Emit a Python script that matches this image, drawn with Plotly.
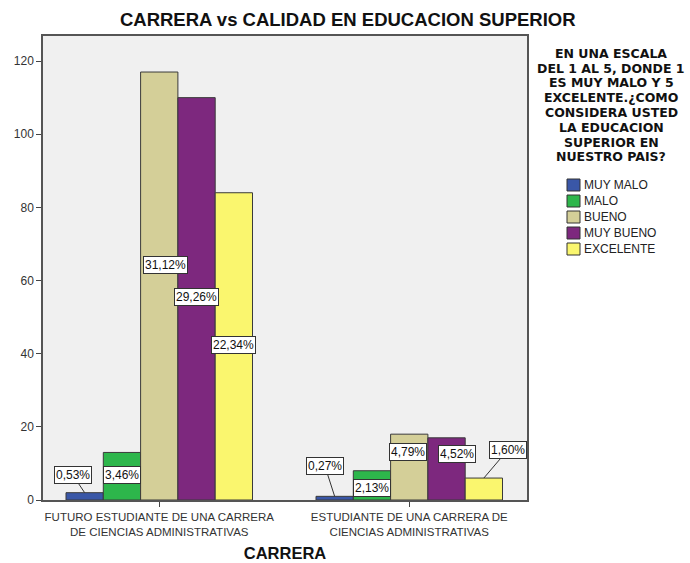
import plotly.graph_objects as go

# Frequencies per career group and rating
careers = ["FUTURO ESTUDIANTE DE UNA CARRERA<br>DE CIENCIAS ADMINISTRATIVAS",
           "ESTUDIANTE DE UNA CARRERA DE<br>CIENCIAS ADMINISTRATIVAS"]
ratings = ["MUY MALO", "MALO", "BUENO", "MUY BUENO", "EXCELENTE"]
counts_futuro = [2, 13, 117, 110, 84]
counts_estudiante = [1, 8, 18, 17, 6]
colors = ["#3A57A7", "#2DB64B", "#D4CF98", "#7D287E", "#FAF66E"]

legend_title = ["EN UNA ESCALA", "DEL 1 AL 5, DONDE 1", "ES MUY MALO Y 5",
                "EXCELENTE.\u00bfCOMO", "CONSIDERA USTED", "LA EDUCACION",
                "SUPERIOR EN", "NUESTRO PAIS?"]

# Percentage-label placement: horizontal nudge (category units), height (value units),
# and whether a leader line connects the label to the bar top
label_dx = [[-0.047, 0.0, 0.023, 0.0, 0.0], [-0.039, 0.0, -0.005, 0.042, 0.096]]
label_y = [[6.8, 6.8, 64.2, 55.5, 42.4], [9.3, 3.3, 13.1, 12.6, 13.7]]
label_leader = [[True, False, False, False, False], [True, False, False, False, True]]

groups = [counts_futuro, counts_estudiante]
total = sum(counts_futuro) + sum(counts_estudiante)
bargap = 0.254
bar_w = (1 - bargap) / len(ratings)

fig = go.Figure()
for i, name in enumerate(ratings):
    fig.add_trace(go.Bar(
        x=[0, 1], y=[groups[0][i], groups[1][i]], name=name,
        marker=dict(color=colors[i], line=dict(color="#3a3a3a", width=1)),
        showlegend=False,
    ))

annotations = []
for g, vals in enumerate(groups):
    for i, v in enumerate(vals):
        cx = g + (i - 2) * bar_w
        txt = f"{v / total * 100:.2f}%".replace(".", ",")
        lx = cx + label_dx[g][i]
        ly = label_y[g][i]
        common = dict(text=txt, xref="x", yref="y", bgcolor="white",
                      bordercolor="#333333", borderwidth=1, borderpad=1,
                      font=dict(family="Liberation Sans, Arial", size=12, color="#111111"))
        if label_leader[g][i]:
            annotations.append(dict(x=cx, y=v, ax=lx, ay=ly, axref="x", ayref="y",
                                    showarrow=True, arrowhead=0, arrowwidth=1,
                                    arrowcolor="#333333", **common))
        else:
            annotations.append(dict(x=lx, y=ly, showarrow=False, **common))

# Legend block drawn beside the plot
plot_l, plot_r, plot_t, plot_b = 43, 527, 36, 500
def px_x(p):
    return (p - plot_l) / (plot_r - plot_l)
def px_y(p):
    return (plot_b - p) / (plot_b - plot_t)

for k, line in enumerate(legend_title):
    annotations.append(dict(text=f"<b>{line}</b>", xref="paper", yref="paper",
                            x=px_x(611), y=px_y(53.3 + k * 14.8), showarrow=False,
                            xanchor="center", yanchor="middle",
                            font=dict(family="DejaVu Sans", size=12.5, color="#111111")))
shapes = []
for i, name in enumerate(ratings):
    yc = 185 + i * 16
    shapes.append(dict(type="rect", xref="paper", yref="paper",
                       x0=px_x(567), x1=px_x(580), y0=px_y(yc + 6), y1=px_y(yc - 6),
                       fillcolor=colors[i], line=dict(color="#333333", width=1)))
    annotations.append(dict(text=name, xref="paper", yref="paper", x=px_x(582), y=px_y(yc),
                            showarrow=False, xanchor="left", yanchor="middle",
                            font=dict(family="Liberation Sans, Arial", size=12, color="#222222")))

fig.update_layout(
    width=690, height=563,
    margin=dict(l=plot_l, r=690 - plot_r, t=plot_t, b=563 - plot_b, autoexpand=False),
    paper_bgcolor="white", plot_bgcolor="#F0F0F0",
    barmode="group", bargap=bargap, bargroupgap=0,
    title=dict(text="<b>CARRERA vs CALIDAD EN EDUCACION SUPERIOR</b>",
               xref="container", x=0.504, y=1 - 20 / 563, xanchor="center", yanchor="middle",
               font=dict(family="Liberation Sans, Arial", size=18.5, color="#111111")),
    annotations=annotations, shapes=shapes,
    font=dict(family="Liberation Sans, Arial"),
)
fig.update_xaxes(range=[-0.465, 1.471], tickvals=[0, 1], ticktext=careers,
                 ticks="outside", ticklen=5, tickcolor="#444444", automargin=False,
                 showline=True, mirror=True, linecolor="#555555", linewidth=1.5,
                 showgrid=False, zeroline=False,
                 tickfont=dict(size=11.5, color="#333333"),
                 title=dict(text="<b>CARRERA</b>", standoff=11,
                            font=dict(size=16.5, color="#111111")))
fig.update_yaxes(range=[0, 126.85], tickvals=[0, 20, 40, 60, 80, 100, 120],
                 ticks="outside", ticklen=5, tickcolor="#444444", automargin=False,
                 showline=True, mirror=True, linecolor="#555555", linewidth=1.5,
                 showgrid=False, zeroline=False,
                 tickfont=dict(size=12, color="#333333"))

fig.write_html("out.html")
